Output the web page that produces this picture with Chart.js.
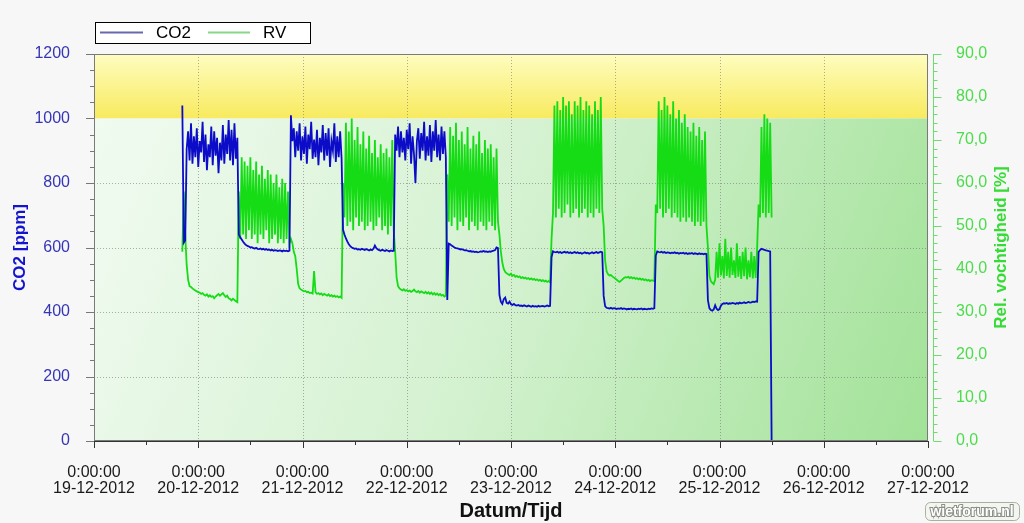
<!DOCTYPE html>
<html>
<head>
<meta charset="utf-8">
<script src="https://cdn.jsdelivr.net/npm/chart.js@4.4.1/dist/chart.umd.min.js"></script>
<style>
  html, body { margin: 0; padding: 0; background: #f7f7f7; }
  #wrap { width: 1024px; height: 523px; }
</style>
</head>
<body>
<div id="wrap"><canvas id="co2Chart" width="1024" height="523"></canvas></div>
<script>
/************ AXIS LABELS ************/
const dayTimes = ["0:00:00", "0:00:00", "0:00:00", "0:00:00", "0:00:00", "0:00:00", "0:00:00", "0:00:00", "0:00:00"];
const dayDates = ["19-12-2012", "20-12-2012", "21-12-2012", "22-12-2012", "23-12-2012",
  "24-12-2012", "25-12-2012", "26-12-2012", "27-12-2012"];

/************ LOGGER DATA (one sample every 20 min, first at 19-12-2012 20:20) ************/
const sampleStartHour = 20 + 20 / 60;
const sampleStepHours = 20 / 60;

// CO2 [ppm]
const co2Values = [
  1040, 615, 622,
  // 20-12 lights on
  905, 960, 870, 985, 860, 945, 880, 970, 850, 930, 895, 990, 865, 950, 840, 920, 880, 975,
  855, 960, 885, 940, 830, 925, 870, 980, 860, 950, 890, 995, 870, 965, 855, 985, 875, 940,
  // off
  640, 632, 625, 618, 612, 608, 605, 603, 600, 601, 598, 597, 599, 596, 595, 597, 594, 596,
  593, 595, 592, 594, 591, 593, 590, 592, 591, 589, 591, 590, 588, 591, 589, 590, 588, 590,
  // 21-12 on
  1010, 930, 970, 880, 960, 900, 985, 870, 945, 890, 975, 860, 950, 905, 990, 875, 935, 880,
  965, 855, 940, 895, 980, 870, 955, 885, 970, 850, 930, 900, 985, 865, 945, 880, 960, 875,
  // off
  655, 640, 628, 618, 610, 604, 600, 598, 596, 597, 594, 595, 593, 596, 594, 592, 595, 593,
  591, 594, 592, 596, 606, 598, 594, 592, 590, 593, 591, 589, 592, 590, 588, 591, 589, 590,
  // 22-12 on
  950, 900, 975, 880, 960, 895, 940, 870, 965, 905, 985, 860, 945, 890, 800, 930, 970, 875,
  955, 900, 990, 870, 945, 885, 980, 865, 960, 900, 995, 880, 950, 870, 975, 890, 960, 880,
  // off
  437, 612, 610, 606, 603, 600, 598, 597, 596, 594, 595, 593, 591, 592, 590, 588, 589, 587,
  588, 586, 587, 585, 586, 588, 587, 589, 587, 588, 586, 588, 587, 589, 590, 592, 600, 598,
  // 23-12
  453, 432, 425, 440, 445, 428, 426, 432, 424, 422, 425, 421, 420, 422, 419, 420, 418, 421,
  419, 417, 420, 418, 416, 419, 417, 418, 416, 419, 417, 418, 419, 417, 418, 420, 418, 419,
  570, 588, 586, 585, 587, 584, 586, 583, 585, 587, 584, 586, 583, 585, 582, 584, 586, 583,
  585, 582, 584, 581, 583, 585, 582, 584, 581, 583, 585, 582, 584, 586, 583, 585, 587, 585,
  // 24-12
  450, 418, 413, 412, 411, 413, 410, 412, 411, 409, 411, 410, 412, 409, 411, 410, 408, 410,
  409, 411, 408, 410, 409, 408, 410, 409, 411, 408, 410, 409, 408, 410, 409, 411, 410, 412,
  575, 588, 586, 585, 587, 584, 586, 583, 585, 584, 582, 584, 583, 585, 582, 584, 581, 583,
  582, 584, 581, 583, 580, 582, 581, 583, 580, 582, 581, 579, 582, 580, 581, 579, 581, 580,
  // 25-12
  437, 412, 406, 404, 408, 421, 410, 406, 409, 420, 425, 427, 426, 428, 425, 427, 426, 428,
  427, 425, 428, 426, 429, 427, 428, 430, 428, 429, 431, 429, 430, 432, 431, 433, 432,
  586, 592, 596, 594, 593, 591, 590, 589, 588,
  0
];

// RV [%]
const rvValues = [
  44, 58, 48,
  41, 37.5, 36, 35.8, 35.5, 35.2, 35, 34.8, 34.6, 34.5, 34.2, 34.4, 34.0, 33.8, 34.1, 33.6, 33.9, 33.5,
  33.7, 33.2, 33.6, 33.9, 34.2, 33.8, 34.1, 34.4, 33.9, 33.5, 33.8, 33.2, 33.0, 32.7, 33.1, 32.8, 32.5, 32.3,
  58, 47, 66, 48, 65, 47, 64, 49, 66, 47, 63, 48, 65, 46, 62, 48, 64, 47,
  61, 49, 63, 46, 62, 47, 60, 48, 62, 46, 59, 47, 61, 46, 60, 47, 58, 46,
  47, 46, 44, 43, 40, 36.5, 35.5, 35.2, 35, 34.8, 34.9, 34.6, 34.7, 34.4, 34.5, 34.3, 39.5, 34.6,
  34.2, 34.4, 34.1, 34.3, 33.9, 34.2, 34.0, 33.8, 34.1, 33.7, 33.9, 33.6, 33.8, 33.5, 33.7, 33.4, 33.6, 33.3,
  60, 52, 74, 50, 72, 51, 75, 49, 70, 52, 73, 50, 69, 51, 72, 49, 68, 50,
  71, 51, 67, 49, 70, 50, 66, 52, 69, 49, 67, 50, 68, 48, 66, 50, 70, 49,
  44, 38, 36, 35.5, 35.2, 35, 35.3, 34.9, 35.1, 34.8, 35, 34.7, 34.9, 35.2, 34.8, 34.6, 34.9, 34.5,
  34.8, 34.6, 34.4, 34.7, 34.3, 34.6, 34.2, 34.5, 34.1, 34.4, 34.0, 34.3, 33.9, 34.2, 33.8, 34.0, 33.6, 33.8,
  62, 51, 73, 50, 71, 52, 74, 49, 70, 51, 72, 50, 69, 52, 73, 49, 68, 51,
  71, 50, 69, 49, 72, 51, 67, 50, 70, 49, 68, 51, 69, 50, 66, 49, 68, 51,
  48, 44, 41.5, 40, 39.3, 39, 38.8, 38.6, 38.9, 38.4, 38.6, 38.2, 38.4, 38.1, 38.3, 37.9, 38.1, 37.8,
  38.0, 37.7, 37.9, 37.6, 37.8, 37.5, 37.7, 37.4, 37.6, 37.3, 37.5, 37.2, 37.4, 37.1, 37.3, 37.0, 37.2, 36.9,
  47, 53, 78, 52, 79, 54, 77, 52, 80, 53, 78, 55, 79, 52, 76, 53, 79, 54,
  78, 52, 80, 53, 77, 54, 79, 52, 78, 53, 76, 52, 79, 54, 77, 53, 80, 54,
  50, 42, 39.5, 38.8, 38.5, 38.6, 38.3, 38.0, 37.8, 37.5, 37.2, 37.0, 37.3, 37.6, 37.9, 38.1, 38.0, 38.2,
  37.9, 38.1, 37.8, 38.0, 37.7, 37.9, 37.6, 37.8, 37.5, 37.7, 37.4, 37.6, 37.3, 37.5, 37.2, 37.4, 37.3, 37.2,
  55, 53, 79, 54, 77, 52, 80, 53, 78, 54, 76, 52, 79, 53, 75, 52, 77, 51,
  74, 52, 76, 51, 73, 52, 72, 51, 74, 50, 71, 51, 73, 50, 70, 51, 72, 50,
  45, 38.5, 37.2, 36.8, 36.5, 37.5, 44, 38, 46, 38.5, 43, 37.8, 47, 38.4, 44, 38, 45, 38.6,
  42, 37.9, 46, 38.2, 43, 37.7, 44, 38.3, 45, 37.6, 42, 38.1, 44, 37.8, 43, 37.9, 45,
  55, 52, 73, 53, 76, 52, 75, 53, 74,
  52
];

const toPoints = (values) =>
  values.map((v, i) => ({ x: sampleStartHour + i * sampleStepHours, y: v }));

/************ COLORS ************/
const co2Color = "#0c0cc8";
const rvColor = "#16dc16";
const FONT = "'Liberation Sans', Arial, sans-serif";
Chart.defaults.font.family = FONT;

/************ BACKGROUND / AXES / LEGEND PLUGIN ************/
const decorPlugin = {
  id: "decor",
  beforeDraw(chart) {
    const { ctx, chartArea: a, scales } = chart;
    const y1000 = scales.y.getPixelForValue(1000);
    ctx.save();
    ctx.fillStyle = "#f7f7f7";
    ctx.fillRect(0, 0, chart.width, chart.height);

    let g = ctx.createLinearGradient(0, a.top, 0, y1000);
    g.addColorStop(0, "#fefdc0");
    g.addColorStop(1, "#f8ea5e");
    ctx.fillStyle = g;
    ctx.fillRect(a.left, a.top, a.right - a.left, y1000 - a.top);

    g = ctx.createLinearGradient(a.left, y1000, a.right, a.bottom);
    g.addColorStop(0, "#f1fbf1");
    g.addColorStop(0.5, "#d3f1cf");
    g.addColorStop(1, "#a2e298");
    ctx.fillStyle = g;
    ctx.fillRect(a.left, y1000, a.right - a.left, a.bottom - y1000);

    // dotted grid
    ctx.strokeStyle = "rgba(110,110,110,0.55)";
    ctx.lineWidth = 1;
    ctx.setLineDash([1, 2]);
    [200, 400, 600, 800].forEach((v) => {
      const y = Math.round(scales.y.getPixelForValue(v)) + 0.5;
      ctx.beginPath(); ctx.moveTo(a.left, y); ctx.lineTo(a.right, y); ctx.stroke();
    });
    for (let h = 24; h < 192; h += 24) {
      const x = Math.round(scales.x.getPixelForValue(h)) + 0.5;
      ctx.beginPath(); ctx.moveTo(x, a.top); ctx.lineTo(x, a.bottom); ctx.stroke();
    }
    ctx.restore();
  },
  afterDatasetsDraw(chart) {
    const { ctx, chartArea: a, scales } = chart;
    ctx.save();
    // plot frame
    ctx.strokeStyle = "#7a7a7a";
    ctx.lineWidth = 1;
    ctx.strokeRect(a.left + 0.5, a.top + 0.5, a.right - a.left - 1, a.bottom - a.top - 1);
    ctx.strokeStyle = "#333";
    ctx.beginPath(); ctx.moveTo(a.left, a.bottom + 0.5); ctx.lineTo(a.right, a.bottom + 0.5); ctx.stroke();

    // left ticks
    ctx.strokeStyle = "#777";
    for (let v = 0; v <= 1200; v += 50) {
      const y = Math.round(scales.y.getPixelForValue(v)) + 0.5;
      const len = v % 200 === 0 ? 8 : 4;
      ctx.beginPath(); ctx.moveTo(a.left - len, y); ctx.lineTo(a.left, y); ctx.stroke();
    }
    // bottom ticks
    ctx.strokeStyle = "#333";
    for (let h = 0; h <= 192; h += 12) {
      const x = Math.round(scales.x.getPixelForValue(h)) + 0.5;
      const len = h % 24 === 0 ? 7 : 4;
      ctx.beginPath(); ctx.moveTo(x, a.bottom); ctx.lineTo(x, a.bottom + len); ctx.stroke();
    }
    // right axis line + ticks
    const rx = a.right + 5.5;
    ctx.strokeStyle = "#6fdc6f";
    ctx.beginPath(); ctx.moveTo(rx, a.top); ctx.lineTo(rx, a.bottom); ctx.stroke();
    for (let v = 0; v <= 90; v += 2) {
      const y = Math.round(scales.y1.getPixelForValue(v)) + 0.5;
      const len = v % 10 === 0 ? 8 : 4;
      ctx.beginPath(); ctx.moveTo(rx, y); ctx.lineTo(rx + len, y); ctx.stroke();
    }
    // right axis title (reads bottom to top)
    ctx.translate(1001, (a.top + a.bottom) / 2);
    ctx.rotate(-Math.PI / 2);
    ctx.fillStyle = "#33dd33";
    ctx.font = "bold 17px " + FONT;
    ctx.textAlign = "center";
    ctx.textBaseline = "middle";
    ctx.fillText("Rel. vochtigheid [%]", 0, 0);
    ctx.setTransform(1, 0, 0, 1, 0, 0);

    // legend box
    ctx.fillStyle = "#ffffff";
    ctx.fillRect(95, 22, 215, 21);
    ctx.strokeStyle = "#000";
    ctx.strokeRect(95.5, 22.5, 215, 21);
    const items = chart.data.datasets;
    const lx = [[100, 143, 156], [208, 250, 263]];
    ctx.font = "17px " + FONT;
    ctx.textAlign = "left";
    ctx.textBaseline = "middle";
    items.forEach((ds, k) => {
      ctx.strokeStyle = k === 0 ? "#6868b0" : "#86d886";
      ctx.lineWidth = 2;
      ctx.beginPath(); ctx.moveTo(lx[k][0], 32.5); ctx.lineTo(lx[k][1], 32.5); ctx.stroke();
      ctx.fillStyle = "#000";
      ctx.fillText(ds.label, lx[k][2], 33);
    });

    // watermark
    ctx.lineWidth = 1;
    ctx.fillStyle = "#f3f5f1";
    ctx.strokeStyle = "#a8b0a0";
    ctx.beginPath();
    ctx.roundRect(925.5, 502.5, 94, 18, 5);
    ctx.fill(); ctx.stroke();
    ctx.font = "bold 14px " + FONT;
    ctx.textAlign = "center";
    ctx.lineWidth = 2;
    ctx.strokeStyle = "#8a8f86";
    ctx.strokeText("wietforum.nl", 972, 512);
    ctx.fillStyle = "#ffffff";
    ctx.fillText("wietforum.nl", 972, 512);
    ctx.restore();
  },
};

/************ CHART ************/
const ctx = document.getElementById("co2Chart").getContext("2d");
const co2Chart = new Chart(ctx, {
  type: "line",
  data: {
    datasets: [
      {
        label: "CO2",
        data: toPoints(co2Values),
        borderColor: co2Color,
        borderWidth: 1.8,
        pointRadius: 0,
        tension: 0,
        yAxisID: "y",
        order: 0,
      },
      {
        label: "RV",
        data: toPoints(rvValues),
        borderColor: rvColor,
        borderWidth: 1.8,
        pointRadius: 0,
        tension: 0,
        yAxisID: "y1",
        order: 1,
      },
    ],
  },
  options: {
    responsive: false,
    animation: false,
    layout: { padding: { top: 54, left: 0, right: 0, bottom: 0 } },
    plugins: { legend: { display: false }, tooltip: { enabled: false } },
    scales: {
      x: {
        type: "linear",
        min: 0,
        max: 192,
        afterFit: (s) => { s.height = 82; },
        grid: { display: false },
        border: { display: false },
        ticks: {
          stepSize: 24,
          autoSkip: false,
          maxRotation: 0,
          padding: 16,
          color: "#1a1a1a",
          font: { size: 16, lineHeight: 1.0 },
          callback: (v) => [dayTimes[v / 24], dayDates[v / 24]],
        },
        title: {
          display: true,
          text: "Datum/Tijd",
          color: "#111",
          font: { size: 20, weight: "bold" },
          padding: { top: 0, bottom: 0 },
        },
      },
      y: {
        position: "left",
        min: 0,
        max: 1200,
        afterFit: (s) => { s.width = 94; },
        grid: { display: false },
        border: { display: false },
        ticks: {
          stepSize: 200,
          padding: 16,
          color: "#3535b5",
          font: { size: 16 },
          callback: (v) => String(v),
        },
        title: {
          display: true,
          text: "CO2 [ppm]",
          color: "#1414cc",
          font: { size: 17, weight: "bold" },
          padding: { top: 10, bottom: 0 },
        },
      },
      y1: {
        position: "right",
        min: 0,
        max: 90,
        afterFit: (s) => { s.width = 96; },
        grid: { display: false },
        border: { display: false },
        ticks: {
          stepSize: 10,
          padding: 20,
          color: "#4cdc4c",
          font: { size: 16 },
          callback: (v) => v.toFixed(1).replace(".", ","),
        },
      },
    },
  },
  plugins: [decorPlugin],
});
</script>
</body>
</html>
